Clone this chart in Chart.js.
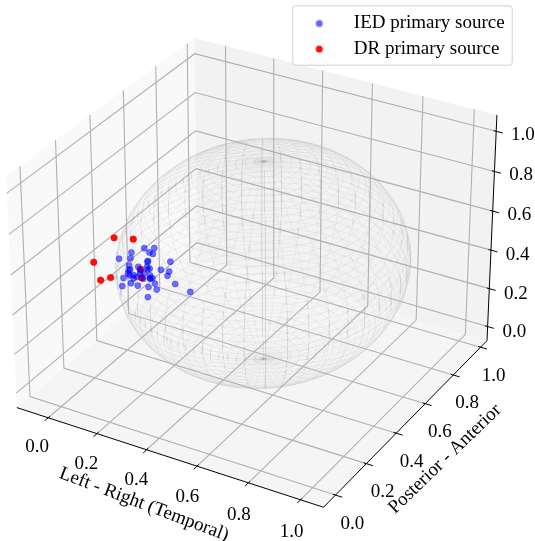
<!DOCTYPE html>
<html>
<head>
<meta charset="utf-8">
<title>Primary sources</title>
<script src="https://cdn.jsdelivr.net/npm/chart.js@4/dist/chart.umd.min.js"></script>
<style>
  html, body { margin: 0; padding: 0; background: #fff; }
  canvas { display: block; }
</style>
</head>
<body>
<canvas id="grafico" width="535" height="541"></canvas>
<script>
const iedX = [0.115, 0.131, 0.092, 0.155, 0.118, 0.080, 0.131, 0.090, 0.103, 0.161, 0.154, 0.116, 0.218, 0.224, 0.184, 0.232, 0.195, 0.161, 0.238, 0.181, 0.170, 0.238, 0.206, 0.180, 0.199, 0.177, 0.190, 0.232, 0.231, 0.160, 0.283, 0.288, 0.249, 0.309, 0.306, 0.333, 0.159, 0.165, 0.123, 0.238, 0.137, 0.087, 0.228];
const iedY = [0.20, 0.25, 0.30, 0.20, 0.25, 0.30, 0.20, 0.25, 0.30, 0.20, 0.25, 0.30, 0.20, 0.25, 0.30, 0.20, 0.25, 0.30, 0.20, 0.25, 0.30, 0.20, 0.25, 0.30, 0.20, 0.25, 0.30, 0.20, 0.25, 0.30, 0.20, 0.25, 0.30, 0.20, 0.25, 0.30, 0.20, 0.25, 0.30, 0.20, 0.25, 0.30, 0.20];
const iedZ = [0.581, 0.584, 0.506, 0.563, 0.490, 0.425, 0.490, 0.399, 0.425, 0.475, 0.425, 0.421, 0.671, 0.640, 0.562, 0.612, 0.561, 0.475, 0.577, 0.499, 0.449, 0.527, 0.482, 0.438, 0.537, 0.469, 0.414, 0.482, 0.434, 0.334, 0.587, 0.595, 0.497, 0.567, 0.490, 0.425, 0.543, 0.507, 0.475, 0.657, 0.455, 0.419, 0.583];

const drX = [0.132, 0.209, 0.118, 0.149, 0.108, 0.167, 0.136];
const drY = [0.15, 0.15, 0.05, 0.10, 0.10, 0.25, 0.30];
const drZ = [0.725, 0.746, 0.667, 0.568, 0.540, 0.513, 0.423];

const ticks3d = [0, 0.2, 0.4, 0.6, 0.8, 1];
const tickLabels = ['0.0', '0.2', '0.4', '0.6', '0.8', '1.0'];

const xLim = [-0.13, 1.087];
const yLim = [-0.076, 1.048];
const zLim = [-0.075, 1.08];

// same camera as a default mplot3d view (elev 30, azim -60, box 4:4:3)
const boxSize = [1.1429, 1.1429, 0.85716];
const camDist = 10;
const camU = [0.866, 0.5, 0];
const camV = [-0.25, 0.433, 0.866];
const camW = [0.433, -0.75, 0.5];

function projetar(x, y, z) {
    const d = [
        ((x - xLim[0]) / (xLim[1] - xLim[0]) - 0.5) * boxSize[0],
        ((y - yLim[0]) / (yLim[1] - yLim[0]) - 0.5) * boxSize[1],
        ((z - zLim[0]) / (zLim[1] - zLim[0]) - 0.5) * boxSize[2]
    ];
    const dot = (a) => a[0] * d[0] + a[1] * d[1] + a[2] * d[2];
    const den = camDist - dot(camW);
    return { x: dot(camU) / den, y: dot(camV) / den };
}

function linha3d(pontos) {
    return pontos.map(p => projetar(p[0], p[1], p[2]));
}

const quebra = { x: NaN, y: NaN };

// grid lines on the three back panes
let grade = [];
ticks3d.forEach(t => {
    grade = grade.concat(linha3d([[t, yLim[0], zLim[0]], [t, yLim[1], zLim[0]], [t, yLim[1], zLim[1]]]), [quebra]);
    grade = grade.concat(linha3d([[xLim[1], t, zLim[0]], [xLim[0], t, zLim[0]], [xLim[0], t, zLim[1]]]), [quebra]);
    grade = grade.concat(linha3d([[xLim[0], yLim[0], t], [xLim[0], yLim[1], t], [xLim[1], yLim[1], t]]), [quebra]);
});

// axis lines and tick marks
let eixos = linha3d([[xLim[0], yLim[0], zLim[0]], [xLim[1], yLim[0], zLim[0]], [xLim[1], yLim[1], zLim[0]], [xLim[1], yLim[1], zLim[1]]]);
eixos.push(quebra);
ticks3d.forEach(t => {
    eixos = eixos.concat(linha3d([[t, yLim[0] + 0.01, zLim[0]], [t, yLim[0] - 0.02, zLim[0]]]), [quebra]);
    eixos = eixos.concat(linha3d([[xLim[1] - 0.01, t, zLim[0]], [xLim[1] + 0.025, t, zLim[0]]]), [quebra]);
    eixos = eixos.concat(linha3d([[xLim[1] - 0.01, yLim[1], t], [xLim[1] + 0.025, yLim[1], t]]), [quebra]);
});

// wireframe sphere, one dataset per line so the alpha builds up at the poles
const esferaCentro = 0.5;
const esferaRaio = 0.5;
const esferaMeridianos = 44;
const esferaParalelos = 50;
const esferaPassos = 60;
const esfera = [];

function pontoEsfera(u, v) {
    return projetar(
        esferaCentro + esferaRaio * Math.cos(u) * Math.sin(v),
        esferaCentro + esferaRaio * Math.sin(u) * Math.sin(v),
        esferaCentro + esferaRaio * Math.cos(v));
}

for (let i = 0; i < esferaMeridianos; i++) {
    const u = 2 * Math.PI * i / esferaMeridianos;
    const l = [];
    for (let j = 0; j <= esferaPassos; j++) l.push(pontoEsfera(u, Math.PI * j / esferaPassos));
    esfera.push(l);
}
for (let i = 1; i < esferaParalelos; i++) {
    const v = Math.PI * i / esferaParalelos;
    const l = [];
    for (let j = 0; j <= esferaPassos; j++) l.push(pontoEsfera(2 * Math.PI * j / esferaPassos, v));
    esfera.push(l);
}

function pontos3d(xs, ys, zs) {
    return xs.map((x, i) => projetar(x, ys[i], zs[i]));
}

function marcador(cor) {
    const c = document.createElement('canvas');
    c.width = 10;
    c.height = 10;
    const g = c.getContext('2d');
    g.fillStyle = cor;
    g.beginPath();
    g.arc(5, 5, 3.5, 0, Math.PI * 2);
    g.fill();
    return c;
}

const fonte = '19px "Liberation Serif"';

function px(chart, p) {
    return [chart.scales.x.getPixelForValue(p.x), chart.scales.y.getPixelForValue(p.y)];
}

function pane(chart, cantos, cor) {
    const ctx = chart.ctx;
    ctx.fillStyle = cor;
    ctx.beginPath();
    cantos.forEach((c, i) => {
        const [a, b] = px(chart, projetar(c[0], c[1], c[2]));
        if (i === 0) ctx.moveTo(a, b);
        else ctx.lineTo(a, b);
    });
    ctx.closePath();
    ctx.fill();
}

const fundo3d = {
    id: 'fundo3d',
    beforeDraw(chart) {
        const [x0, x1] = xLim, [y0, y1] = yLim, [z0, z1] = zLim;
        pane(chart, [[x0, y0, z0], [x0, y1, z0], [x0, y1, z1], [x0, y0, z1]], '#f9f9f9');
        pane(chart, [[x0, y1, z0], [x1, y1, z0], [x1, y1, z1], [x0, y1, z1]], '#f2f2f2');
        pane(chart, [[x0, y0, z0], [x1, y0, z0], [x1, y1, z0], [x0, y1, z0]], '#f5f5f5');

        // legend frame, the entries themselves come from the library
        const ctx = chart.ctx;
        ctx.fillStyle = 'rgba(255,255,255,0.8)';
        ctx.strokeStyle = '#d0d0d0';
        ctx.lineWidth = 1;
        ctx.beginPath();
        ctx.roundRect(292.8, 5.8, 219.4, 59.4, 3);
        ctx.fill();
        ctx.stroke();

        const leg = chart.legend;
        leg.left = 287.7;
        leg.right = 535;
        leg.top = 7.4;
        leg.bottom = 100;
    }
};

const textos3d = {
    id: 'textos3d',
    afterDraw(chart) {
        const ctx = chart.ctx;
        ctx.save();
        ctx.font = fonte;
        ctx.fillStyle = '#000';
        ctx.textAlign = 'center';
        ctx.textBaseline = 'middle';
        ticks3d.forEach((t, i) => {
            let [a, b] = px(chart, projetar(t, yLim[0], zLim[0]));
            ctx.fillText(tickLabels[i], a - 11 + 2 * t, b + 29.5 + 3 * t);
            [a, b] = px(chart, projetar(xLim[1], t, zLim[0]));
            ctx.fillText(tickLabels[i], a + 17 - 4 * t, b + 28.5);
            [a, b] = px(chart, projetar(xLim[1], yLim[1], t));
            ctx.fillText(tickLabels[i], a + 26.7, b + 5.5 - 2 * t);
        });
        ctx.translate(144, 504.5);
        ctx.rotate(20.7 * Math.PI / 180);
        ctx.fillText('Left - Right (Temporal)', 0, 0);
        ctx.rotate(-20.7 * Math.PI / 180);
        ctx.translate(445 - 144, 459 - 504.5);
        ctx.rotate(-44 * Math.PI / 180);
        ctx.fillText('Posterior - Anterior', 0, 0);
        ctx.restore();
    }
};

const datasets = [
    {
        label: 'IED primary source',
        data: pontos3d(iedX, iedY, iedZ),
        backgroundColor: 'rgba(0,0,255,0.55)',
        borderColor: 'rgba(0,0,255,0.35)',
        borderWidth: 0.8,
        pointRadius: 3.1,
        order: 0
    },
    {
        label: 'DR primary source',
        data: pontos3d(drX, drY, drZ),
        backgroundColor: 'rgba(255,0,0,0.95)',
        borderColor: 'rgba(255,0,0,0.9)',
        borderWidth: 0.8,
        pointRadius: 3.2,
        order: 1
    },
    { label: 'eixos', data: eixos, showLine: true, pointRadius: 0, borderColor: '#000', borderWidth: 1, order: 2 }
];
esfera.forEach((l, i) => {
    datasets.push({ label: 'esfera' + i, data: l, showLine: true, pointRadius: 0, borderColor: 'rgba(128,128,128,0.085)', borderWidth: 1, order: 5 });
});
datasets.push({ label: 'grade', data: grade, showLine: true, pointRadius: 0, borderColor: '#b0b0b0', borderWidth: 1.1, order: 4 });

new Chart(document.getElementById('grafico').getContext('2d'), {
    type: 'scatter',
    data: { datasets },
    plugins: [fundo3d, textos3d],
    options: {
        responsive: false,
        animation: false,
        events: [],
        layout: { padding: 0, autoPadding: false },
        scales: {
            x: { type: 'linear', display: false, min: -0.08328, max: 0.0907 },
            y: { type: 'linear', display: false, min: -0.0908, max: 0.08514 }
        },
        plugins: {
            tooltip: { enabled: false },
            legend: {
                position: 'chartArea',
                align: 'start',
                labels: {
                    font: { family: 'Liberation Serif', size: 19 },
                    color: '#000',
                    padding: 6.6,
                    usePointStyle: true,
                    pointStyleWidth: 50,
                    generateLabels: () => [
                        { text: 'IED primary source', pointStyle: marcador('rgba(0,0,255,0.6)'), fontColor: '#000', hidden: false },
                        { text: 'DR primary source', pointStyle: marcador('rgba(255,0,0,0.95)'), fontColor: '#000', hidden: false }
                    ]
                }
            }
        }
    }
});
</script>
</body>
</html>
